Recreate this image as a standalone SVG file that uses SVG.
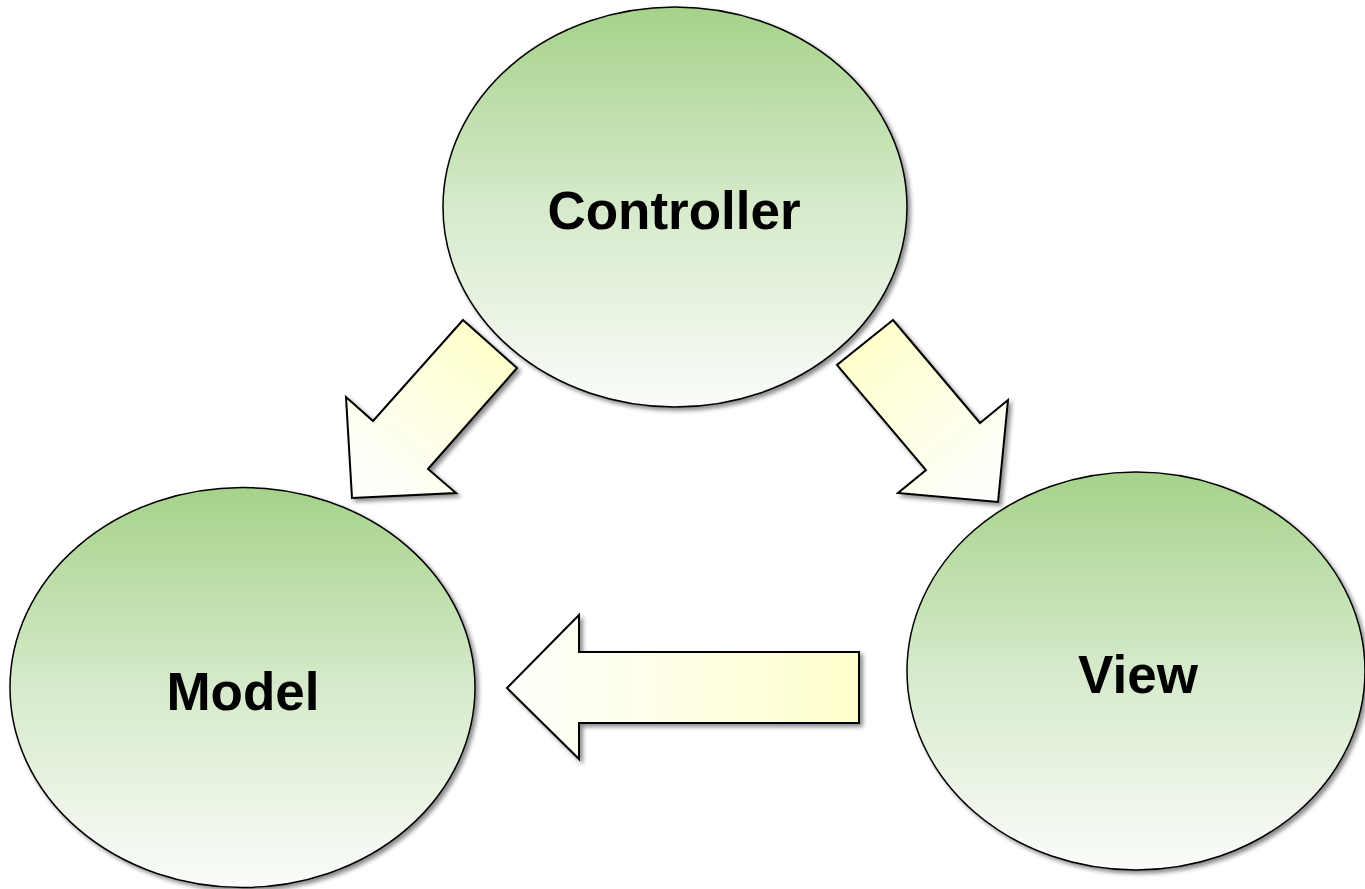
<svg xmlns="http://www.w3.org/2000/svg" width="1365" height="889" viewBox="0 0 1365 889">
<style>
.node{stroke:#000;stroke-width:1.5;fill:url(#gGreen);filter:url(#sh)}
.arr{stroke:#000;stroke-width:2;stroke-linejoin:miter;filter:url(#sh)}
.lbl{font-family:"Liberation Sans",Arial,sans-serif;font-weight:bold;font-size:53px;fill:#000;text-anchor:middle}
</style>
<defs>
<linearGradient id="gGreen" x1="0" y1="0" x2="0" y2="1">
<stop offset="0" stop-color="#A5D28A"/>
<stop offset="0.5" stop-color="#D6EACB"/>
<stop offset="1" stop-color="#FAFCF9"/>
</linearGradient>
<linearGradient id="gH" gradientUnits="userSpaceOnUse" x1="506" y1="0" x2="859" y2="0">
<stop offset="0" stop-color="#FEFEFA"/>
<stop offset="0.3" stop-color="#FFFFF0"/>
<stop offset="1" stop-color="#FFFFCC"/>
</linearGradient>
<linearGradient id="gL" gradientUnits="userSpaceOnUse" x1="490" y1="340" x2="380" y2="480">
<stop offset="0" stop-color="#FFFFCC"/>
<stop offset="1" stop-color="#FEFEFA"/>
</linearGradient>
<linearGradient id="gR" gradientUnits="userSpaceOnUse" x1="865" y1="340" x2="980" y2="480">
<stop offset="0" stop-color="#FFFFCC"/>
<stop offset="1" stop-color="#FEFEFA"/>
</linearGradient>
<filter id="sh" x="-10%" y="-10%" width="125%" height="125%">
<feDropShadow dx="3" dy="3" stdDeviation="2" flood-color="#000" flood-opacity="0.45"/>
</filter>
</defs>
<g id="connectors">
<polygon class="arr" fill="url(#gL)" points="463,320 517,368 428,469 456,493 352,498 346,397 373,421"/>
<polygon class="arr" fill="url(#gR)" points="893,320 837,365 926,470 898,493 998,502 1008,400 980,423"/>
<polygon class="arr" fill="url(#gH)" points="507,688 579,615 579,652 859,652 859,723 579,723 579,759"/>
</g>
<g id="controller">
<ellipse class="node" cx="675" cy="207" rx="232" ry="200"/>
<text class="lbl" x="674" y="229">Controller</text>
</g>
<g id="model">
<ellipse class="node" cx="242.5" cy="687.5" rx="232.5" ry="200"/>
<text class="lbl" x="243" y="710">Model</text>
</g>
<g id="view">
<ellipse class="node" cx="1136" cy="671" rx="229" ry="199"/>
<text class="lbl" x="1138" y="693">View</text>
</g>
</svg>
